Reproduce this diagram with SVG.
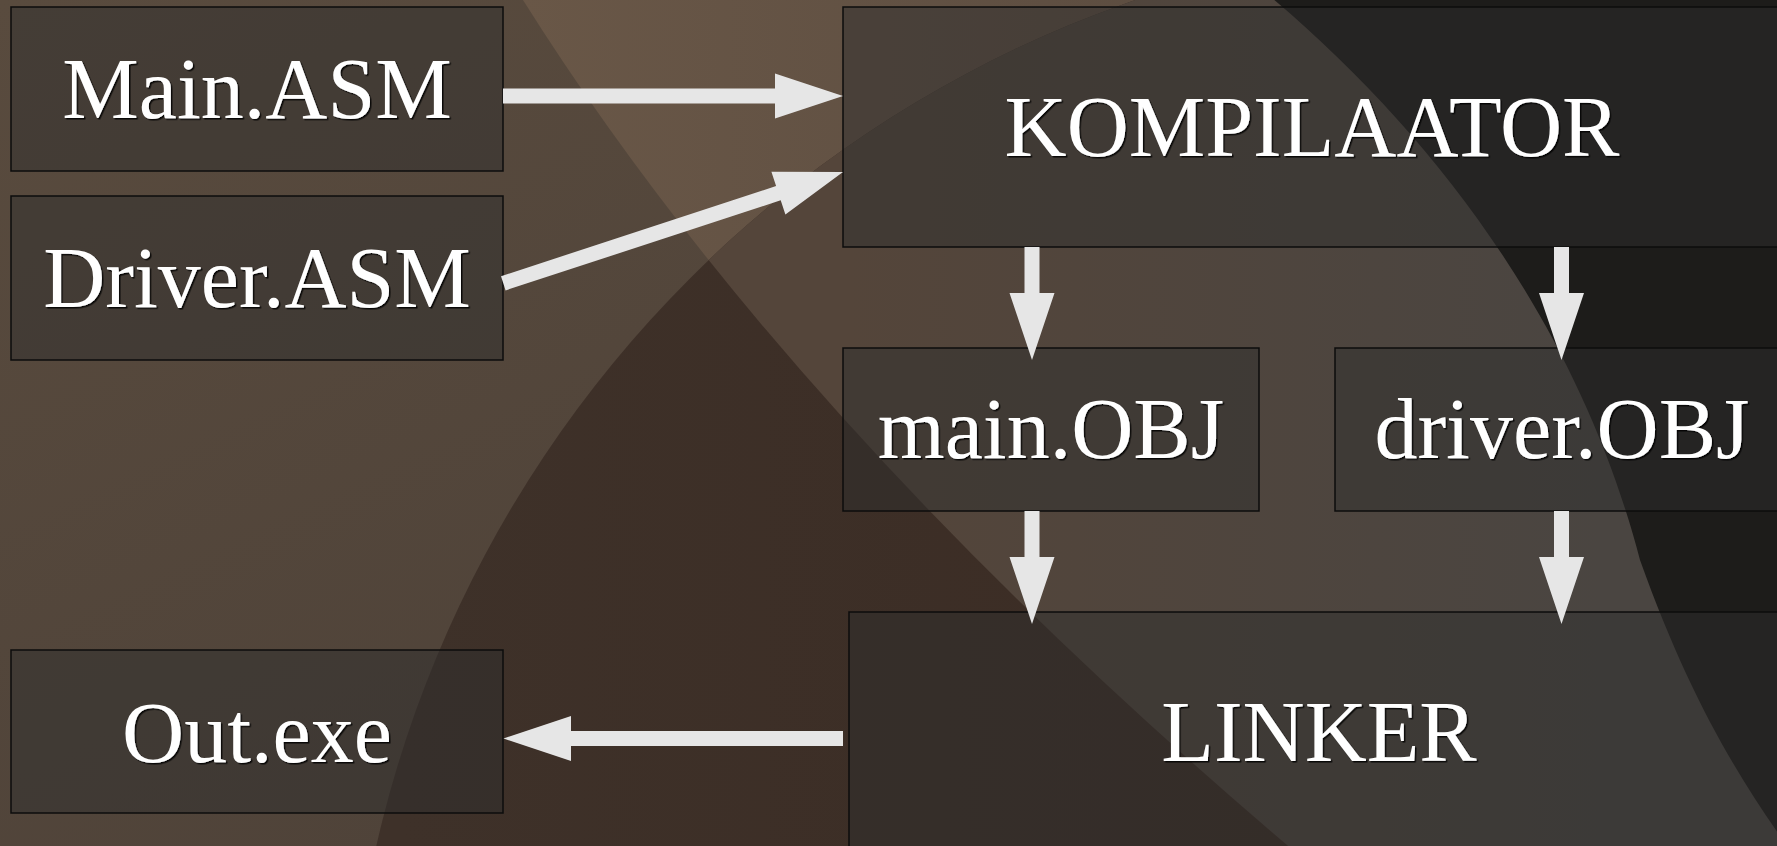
<svg xmlns="http://www.w3.org/2000/svg" width="1777" height="846" viewBox="0 0 1777 846">
  <defs>
    <style>
      .box { fill: rgba(46,46,46,0.48); stroke: #0c0c0c; stroke-width: 1.5; }
      .lbl { font-family: "Liberation Serif", "Times New Roman", serif; font-size: 86px; fill: #ffffff; text-anchor: middle; filter: url(#shadow); }
      .arrow { fill: #e6e6e6; }
    </style>
    <filter id="shadow" x="-5%" y="-20%" width="110%" height="140%">
      <feDropShadow dx="1.5" dy="1.5" stdDeviation="0.6" flood-color="#000000" flood-opacity="0.85"/>
    </filter>
    <linearGradient id="gBase" x1="0" y1="0" x2="1" y2="1">
      <stop offset="0" stop-color="#594b3e"/>
      <stop offset="1" stop-color="#493e36"/>
    </linearGradient>
    <linearGradient id="gLight" gradientUnits="userSpaceOnUse" x1="520" y1="0" x2="1250" y2="0">
      <stop offset="0" stop-color="#695747"/>
      <stop offset="1" stop-color="#5b4c40"/>
    </linearGradient>
    <linearGradient id="gDark" gradientUnits="userSpaceOnUse" x1="400" y1="0" x2="1300" y2="0">
      <stop offset="0" stop-color="#3e3129"/>
      <stop offset="1" stop-color="#3b2c24"/>
    </linearGradient>
    <linearGradient id="gMid" gradientUnits="userSpaceOnUse" x1="850" y1="0" x2="1600" y2="0">
      <stop offset="0" stop-color="#54453a"/>
      <stop offset="1" stop-color="#4a4541"/>
    </linearGradient>
    <clipPath id="arcClip">
      <circle cx="1517" cy="1106" r="1170"/>
    </clipPath>
  </defs>

  <!-- backdrop: overlapping wedges and arcs -->
  <g id="background">
    <rect x="0" y="0" width="1777" height="846" fill="url(#gBase)"/>
    <path d="M523,0 Q790,425 1300,856 L1790,856 L1790,-10 L523,-10 Z" fill="url(#gLight)"/>
    <circle cx="1517" cy="1106" r="1170" fill="url(#gDark)"/>
    <path d="M523,0 Q790,425 1300,856 L1790,856 L1790,-10 L523,-10 Z" fill="url(#gMid)" clip-path="url(#arcClip)"/>
    <path d="M1272,-2 C1440,140 1580,330 1640,560 C1690,700 1740,780 1790,850 L1790,-2 Z" fill="#1d1c1a"/>
  </g>

  <g id="node-main-asm">
    <rect class="box" x="11" y="7" width="492" height="164"/>
    <text class="lbl" x="257" y="118">Main.ASM</text>
  </g>
  <g id="node-driver-asm">
    <rect class="box" x="11" y="196" width="492" height="164"/>
    <text class="lbl" x="257" y="307">Driver.ASM</text>
  </g>
  <g id="node-kompilaator">
    <rect class="box" x="843" y="7" width="940" height="240"/>
    <text class="lbl" x="1312" y="156">KOMPILAATOR</text>
  </g>
  <g id="node-main-obj">
    <rect class="box" x="843" y="348" width="416" height="163"/>
    <text class="lbl" x="1051" y="458">main.OBJ</text>
  </g>
  <g id="node-driver-obj">
    <rect class="box" x="1335" y="348" width="455" height="163"/>
    <text class="lbl" x="1562" y="458">driver.OBJ</text>
  </g>
  <g id="node-linker">
    <rect class="box" x="849" y="612" width="940" height="240"/>
    <text class="lbl" x="1319" y="761">LINKER</text>
  </g>
  <g id="node-out-exe">
    <rect class="box" x="11" y="650" width="492" height="163"/>
    <text class="lbl" x="257" y="762">Out.exe</text>
  </g>

  <g id="connectors">
    <!-- Main.ASM -> KOMPILAATOR -->
    <polygon class="arrow" points="503,88.5 775,88.5 775,73.5 843,96 775,118.5 775,103.5 503,103.5"/>
    <!-- Driver.ASM -> KOMPILAATOR -->
    <polygon class="arrow" points="501,276.2 776.1,186.1 771.4,171.8 843,172 785.4,214.6 780.7,200.3 505.6,290.4"/>
    <!-- KOMPILAATOR -> main.OBJ -->
    <polygon class="arrow" points="1024.5,247 1039.5,247 1039.5,293 1054.5,293 1032,360 1009.5,293 1024.5,293"/>
    <!-- KOMPILAATOR -> driver.OBJ -->
    <polygon class="arrow" points="1554,247 1569,247 1569,293 1584,293 1561.5,360 1539,293 1554,293"/>
    <!-- main.OBJ -> LINKER -->
    <polygon class="arrow" points="1024.5,511 1039.5,511 1039.5,557 1054.5,557 1032,624 1009.5,557 1024.5,557"/>
    <!-- driver.OBJ -> LINKER -->
    <polygon class="arrow" points="1554,511 1569,511 1569,557 1584,557 1561.5,624 1539,557 1554,557"/>
    <!-- LINKER -> Out.exe -->
    <polygon class="arrow" points="843,731 571,731 571,716 503.5,738.5 571,761 571,746 843,746"/>
  </g>
</svg>
